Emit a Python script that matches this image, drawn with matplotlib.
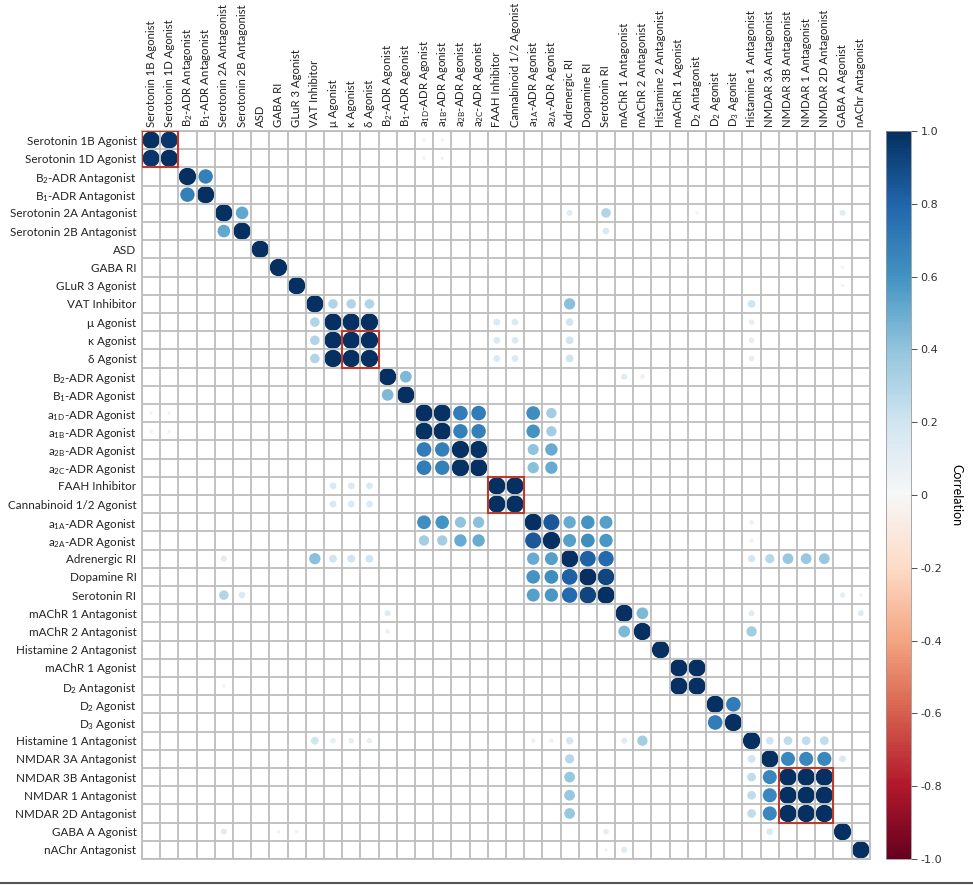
import numpy as np
import matplotlib
matplotlib.use("Agg")
import matplotlib.pyplot as plt
from matplotlib.patches import Rectangle
from matplotlib.lines import Line2D

plt.rcParams['font.family'] = ['Lato', 'DejaVu Sans']
plt.rcParams['mathtext.default'] = 'regular'

# etiquetas (mismo orden en filas y columnas)
labels = [
    "Serotonin 1B Agonist", "Serotonin 1D Agonist", "B$_2$-ADR Antagonist", "B$_1$-ADR Antagonist",
    "Serotonin 2A Antagonist", "Serotonin 2B Antagonist", "ASD", "GABA RI", "GLuR 3 Agonist",
    "VAT Inhibitor", "μ Agonist", "κ Agonist", "δ Agonist", "B$_2$-ADR Agonist", "B$_1$-ADR Agonist",
    "a$_{1D}$-ADR Agonist", "a$_{1B}$-ADR Agonist", "a$_{2B}$-ADR Agonist", "a$_{2C}$-ADR Agonist",
    "FAAH Inhibitor", "Cannabinoid 1/2 Agonist", "a$_{1A}$-ADR Agonist", "a$_{2A}$-ADR Agonist",
    "Adrenergic RI", "Dopamine RI", "Serotonin RI", "mAChR 1 Antagonist", "mAChR 2 Antagonist",
    "Histamine 2 Antagonist", "mAChR 1 Agonist", "D$_2$ Antagonist", "D$_2$ Agonist", "D$_3$ Agonist",
    "Histamine 1 Antagonist", "NMDAR 3A Antagonist", "NMDAR 3B Antagonist", "NMDAR 1 Antagonist",
    "NMDAR 2D Antagonist", "GABA A Agonist", "nAChr Antagonist",
]

# correlaciones fuera de la diagonal (triangulo superior), el resto ~0
pair_i = [0, 2, 4, 9, 9, 9, 9, 9, 10, 10, 11, 10, 10, 11, 11, 12, 12, 10, 11, 12, 10, 11, 12,
          13, 13, 13, 15, 17, 15, 15, 16, 16, 15, 16, 17, 18, 15, 16, 17, 18, 19,
          21, 21, 21, 21, 22, 22, 22, 23, 23, 24, 4, 4, 5, 4, 25,
          23, 23, 23, 23, 23, 26, 26, 26, 27, 29, 31, 33, 33, 33, 33, 34, 34, 34, 34,
          35, 35, 36, 21, 22, 0, 0, 1, 1, 4, 7, 8, 25]
pair_j = [1, 3, 5, 10, 11, 12, 23, 33, 11, 12, 12, 19, 20, 19, 20, 19, 20, 23, 23, 23, 33, 33, 33,
          14, 26, 27, 16, 18, 17, 18, 17, 18, 21, 21, 21, 21, 22, 22, 22, 22, 20,
          22, 23, 24, 25, 23, 24, 25, 24, 25, 25, 23, 25, 25, 38, 38,
          33, 34, 35, 36, 37, 27, 33, 39, 33, 30, 32, 34, 35, 36, 37, 35, 36, 37, 38,
          36, 37, 37, 33, 33, 15, 16, 15, 16, 30, 38, 38, 39]
pair_r = [0.97, 0.68, 0.52, 0.3, 0.3, 0.3, 0.42, 0.2, 1.0, 1.0, 1.0, 0.15, 0.15, 0.15, 0.15, 0.15, 0.15,
          0.2, 0.2, 0.2, 0.1, 0.1, 0.1,
          0.45, 0.12, 0.07, 0.99, 0.99, 0.7, 0.7, 0.68, 0.68, 0.62, 0.6, 0.4, 0.42, 0.35, 0.35, 0.5, 0.5, 1.0,
          0.85, 0.5, 0.6, 0.55, 0.55, 0.62, 0.58, 0.82, 0.78, 0.92, 0.12, 0.3, 0.15, 0.12, 0.1,
          0.18, 0.28, 0.38, 0.38, 0.38, 0.45, 0.12, 0.12, 0.35, 1.0, 0.7, 0.2, 0.25, 0.25, 0.25,
          0.65, 0.65, 0.65, 0.15, 1.0, 1.0, 1.0, 0.07, 0.06, 0.04, 0.04, 0.04, 0.04, 0.04, 0.04, 0.04, 0.04]

# bloques marcados en rojo (inicio, fin)
boxes = [(0, 1), (11, 12), (19, 20), (35, 37)]

n = len(labels)
corr = np.eye(n)
for i, j, r in zip(pair_i, pair_j, pair_r):
    corr[i, j] = r
    corr[j, i] = r

fig = plt.figure(figsize=(9.73, 8.85), dpi=100)
ax = fig.add_axes([0.1459, 0.0294, 0.7481, 0.8226])
cax = fig.add_axes([0.9106, 0.0294, 0.0257, 0.8226])

cmap = plt.get_cmap('RdBu')
norm = matplotlib.colors.Normalize(vmin=-1, vmax=1)

yy, xx = np.meshgrid(np.arange(n), np.arange(n), indexing='ij')
vals = corr.ravel()
mask = np.abs(vals) > 0.001
ax.scatter(xx.ravel()[mask], yy.ravel()[mask], s=158 * np.abs(vals[mask]),
           c=vals[mask], cmap=cmap, norm=norm, linewidths=0, zorder=2)

grid_col = '#bdbdbd'
for k in range(n + 1):
    ax.axvline(k - 0.5, color=grid_col, lw=1.3, zorder=3)
    ax.axhline(k - 0.5, color=grid_col, lw=1.3, zorder=3)

for a, b in boxes:
    ax.add_patch(Rectangle((a - 0.5, a - 0.5), b - a + 1, b - a + 1, fill=False,
                           edgecolor='#c0392b', lw=1.5, zorder=4))

ax.set_xlim(-0.5, n - 0.5)
ax.set_ylim(n - 0.5, -0.5)
ax.xaxis.tick_top()
ax.set_xticks(range(n))
ax.set_yticks(range(n))
ax.set_xticklabels(labels, rotation=90, fontsize=8.2, color='#222222')
ax.set_yticklabels(labels, fontsize=8.4, color='#222222')
ax.tick_params(axis='x', length=0, pad=3)
ax.tick_params(axis='y', length=0, pad=4)
for sp in ax.spines.values():
    sp.set_color(grid_col)
    sp.set_linewidth(1.3)

sm = matplotlib.cm.ScalarMappable(norm=norm, cmap=cmap)
cb = fig.colorbar(sm, cax=cax)
ticks = [1.0, 0.8, 0.6, 0.4, 0.2, 0, -0.2, -0.4, -0.6, -0.8, -1.0]
cb.set_ticks(ticks)
cb.set_ticklabels(["1.0", "0.8", "0.6", "0.4", "0.2", "0", "-0.2", "-0.4", "-0.6", "-0.8", "-1.0"])
cb.ax.tick_params(labelsize=8, colors='#333333', length=4, width=0.6, pad=3)
for t in cb.ax.get_yticklabels():
    t.set_family('DejaVu Sans')
cb.outline.set_edgecolor('#999999')
cb.outline.set_linewidth(0.6)
cb.set_label("Correlation", rotation=270, fontsize=9, labelpad=14)

fig.add_artist(Line2D([0, 1], [0.002, 0.002], transform=fig.transFigure, color='#555555', lw=1.5))

fig.savefig("out.png", dpi=100)
